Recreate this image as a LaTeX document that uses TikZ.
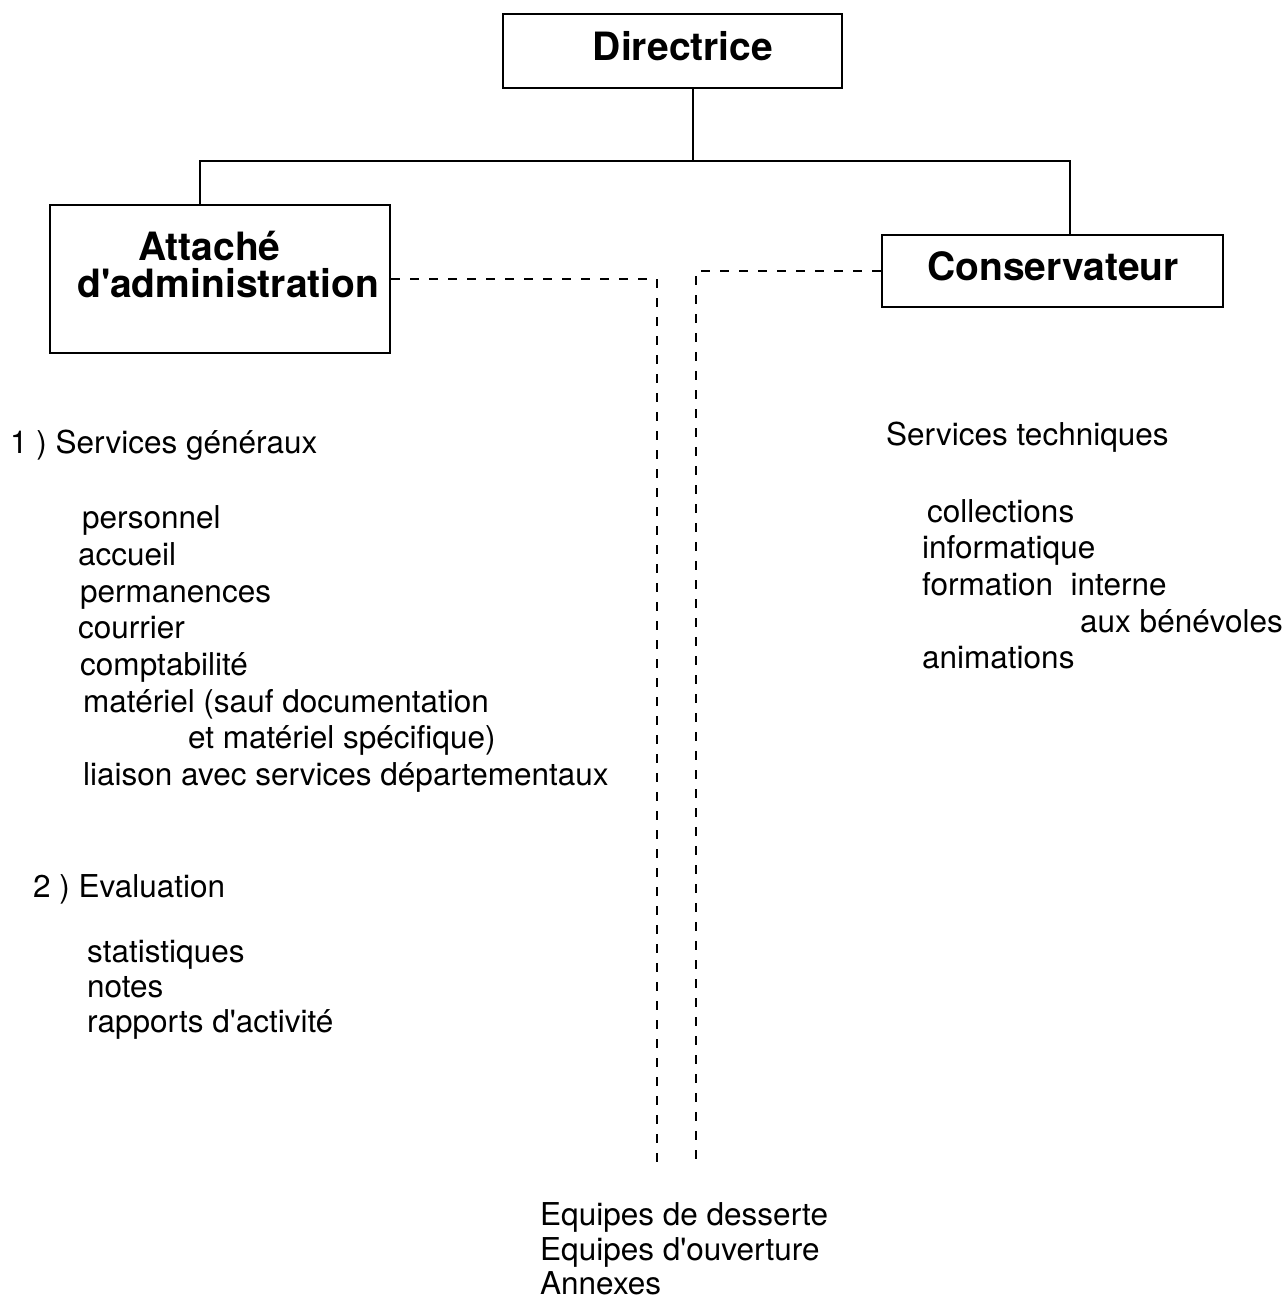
\documentclass[tikz,border=0pt]{standalone}
\usepackage{fontspec}
\setmainfont{TeX Gyre Heros}
\usetikzlibrary{positioning,calc}

\begin{document}
\begin{tikzpicture}[x=1pt, y=-1pt,
    box/.style={draw, line width=2.5pt, inner sep=0pt},
    title/.style={anchor=base, inner sep=0pt, font=\fontsize{39}{41}\selectfont\bfseries},
    txt/.style={anchor=base west, inner sep=0pt, font=\fontsize{31.5}{36}\selectfont},
    conn/.style={line width=2.5pt},
    dashconn/.style={line width=2.5pt, dash pattern=on 9pt off 10pt}]

    \useasboundingbox (0,0) rectangle (1283,1302);

    % Boxes
    \node[box, minimum width=339pt, minimum height=74pt] (dirbox) at (672.5,51) {};
    \node[box, minimum width=340pt, minimum height=148pt] (attbox) at (220,279) {};
    \node[box, minimum width=341pt, minimum height=72pt] (consbox) at (1052.5,271) {};

    % Box titles
    \node[title] (dirtxt) at (683,60) {Directrice};
    \node[title, anchor=base west] (atttxt) at (138,260) {Attaché};
    \node[title, anchor=base west] (admtxt) at (77,297) {d\textquotesingle administration};
    \node[title] (constxt) at (1053,280) {Conservateur};

    % Solid connections
    \coordinate (jn) at (693,161);
    \coordinate (dropL) at (200,0);
    \coordinate (dropR) at (1070,0);
    \draw[conn] (dirbox.south -| jn) -- (jn);
    \draw[conn] (attbox.north -| dropL) |- (jn) -| (consbox.north -| dropR);

    % Dashed connections
    \coordinate (dashLb) at (657,1163);
    \coordinate (dashRb) at (696,1163);
    \draw[dashconn] (attbox.east) -| (dashLb);
    \draw[dashconn] (consbox.west) -| (dashRb);

    % Left column
    \node[txt] (sg) at (10,453) {1 ) Services généraux};
    \node[txt] (sg1) at (82,528) {personnel};
    \node[txt] (sg2) at (78,565) {accueil};
    \node[txt] (sg3) at (80,602) {permanences};
    \node[txt] (sg4) at (78,638) {courrier};
    \node[txt] (sg5) at (80,675) {comptabilité};
    \node[txt] (sg6) at (83,712) {matériel (sauf documentation};
    \node[txt] (sg7) at (188,748) {et matériel spécifique)};
    \node[txt] (sg8) at (83,785) {liaison avec services départementaux};

    \node[txt] (ev) at (33,897) {2 ) Evaluation};
    \node[txt] (ev1) at (87,962) {statistiques};
    \node[txt] (ev2) at (87,997) {notes};
    \node[txt] (ev3) at (87,1032) {rapports d\textquotesingle activité};

    % Right column
    \node[txt] (st) at (886,445) {Services techniques};
    \node[txt] (st1) at (927,522) {collections};
    \node[txt] (st2) at (922,558) {informatique};
    \node[txt] (st3) at (922,595) {formation\ \ interne};
    \node[txt] (st4) at (1080,632) {aux bénévoles};
    \node[txt] (st5) at (922,668) {animations};

    % Bottom
    \node[txt] (eq1) at (540,1225) {Equipes de desserte};
    \node[txt] (eq2) at (540,1260) {Equipes d\textquotesingle ouverture};
    \node[txt] (eq3) at (540,1294) {Annexes};
\end{tikzpicture}
\end{document}
